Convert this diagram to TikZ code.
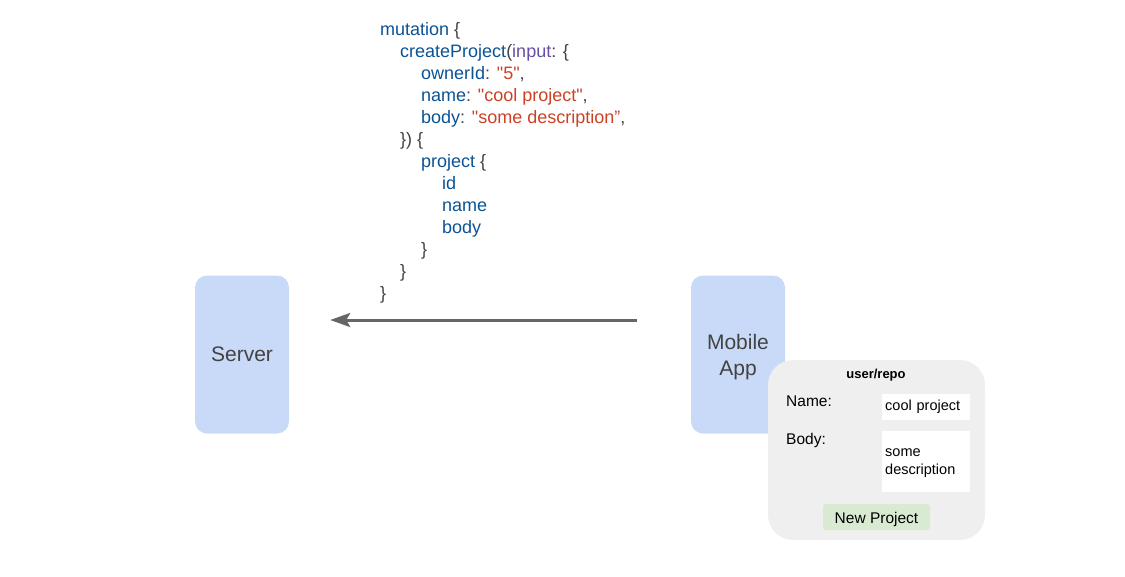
\documentclass[tikz,border=0pt]{standalone}
\usepackage{fontspec}
\setmainfont{Liberation Sans}[Ligatures=TeXOff]
\usetikzlibrary{positioning, arrows.meta}
\definecolor{boxblue}{HTML}{C9DAF8}
\definecolor{formgray}{HTML}{EFEFEF}
\definecolor{btngreen}{HTML}{D9EAD3}
\definecolor{txtgray}{HTML}{434343}
\definecolor{keyblue}{HTML}{0B5394}
\definecolor{strred}{HTML}{CC4125}
\definecolor{argpurple}{HTML}{674EA7}
\definecolor{arrowgray}{HTML}{666666}
\tikzstyle{device} = [rectangle, rounded corners=12pt,
minimum width=94pt,
minimum height=158pt,
align=center,
text=txtgray,
font=\fontsize{21}{26}\selectfont,
fill=boxblue]
\tikzstyle{codeline} = [anchor=base west, inner sep=0pt,
text=txtgray, font=\fontsize{18}{22}\selectfont]
\tikzstyle{field} = [anchor=north west, inner sep=0pt, fill=white,
align=left, font=\fontsize{14.5}{18}\selectfont]
\tikzstyle{label} = [anchor=base west, inner sep=0pt,
font=\fontsize{15.5}{18}\selectfont]
\tikzstyle{arrow} = [line width=3pt, arrowgray, -{Stealth[length=20pt, width=14pt, inset=4pt]}]
\newcommand{\kw}[1]{\textcolor{keyblue}{#1}}
\newcommand{\str}[1]{\textcolor{strred}{#1}}

\begin{document}
\begin{tikzpicture}[x=1pt, y=-1pt]
    \useasboundingbox (0,0) rectangle (1125,576);

    \node (server) [device] at (242,354.5) {Server};
    \node (app) [device] at (738,354.5)
        {\raisebox{-21pt}[0pt][0pt]{\begin{tabular}[b]{@{}c@{}}Mobile\\App\end{tabular}}};

    % Request
    \draw [arrow, shorten <=54pt, shorten >=41pt]
        ([yshift=34.5pt]app.west) -- ([yshift=34.5pt]server.east);

    % Mutation text
    \node (c1) [codeline] at (380,35) {\kw{mutation} \{};
    \node (c2) [codeline] at (400,57) {\kw{createProject}(\textcolor{argpurple}{input}: \{};
    \node (c3) [codeline] at (421,79) {\kw{ownerId}: \str{"5"},};
    \node (c4) [codeline] at (421,101) {\kw{name}: \str{"cool project"},};
    \node (c5) [codeline] at (421,123) {\kw{body}: \str{"some description”},};
    \node (c6) [codeline] at (400,145) {\}) \{};
    \node (c7) [codeline] at (421,167) {\kw{project} \{};
    \node (c8) [codeline] at (442,189) {\kw{id}};
    \node (c9) [codeline] at (442,211) {\kw{name}};
    \node (c10) [codeline] at (442,233) {\kw{body}};
    \node (c11) [codeline] at (421,255) {\}};
    \node (c12) [codeline] at (400,277) {\}};
    \node (c13) [codeline] at (380,299) {\}};

    % Form
    \node (form) [rectangle, rounded corners=25pt, fill=formgray,
        minimum width=217pt, minimum height=180pt] at (876.5,450) {};
    \node (title) [font=\bfseries\fontsize{13}{16}\selectfont, anchor=base, inner sep=0pt]
        at (876,378.5) {user/repo};
    \node (namelbl) [label] at (786,406) {Name:};
    \node (bodylbl) [label] at (786,444) {Body:};
    \node (namebox) [field, minimum width=88pt, minimum height=24pt,
        text width=82pt, inner xsep=3pt, inner ysep=6pt] at (882,394) {cool project};
    \node (bodybox) [field, minimum width=88pt, minimum height=61pt,
        text width=82pt, inner xsep=3pt, inner ysep=0pt] at (882,431)
        {\rule{0pt}{11pt}some\\description};
    \node (button) [rectangle, rounded corners=3pt, fill=btngreen,
        minimum width=107pt, minimum height=26pt, inner sep=0pt,
        font=\fontsize{15.5}{18}\selectfont] at (876.5,517)
        {\raisebox{-6.5pt}[0pt][0pt]{New Project}};
\end{tikzpicture}
\end{document}
